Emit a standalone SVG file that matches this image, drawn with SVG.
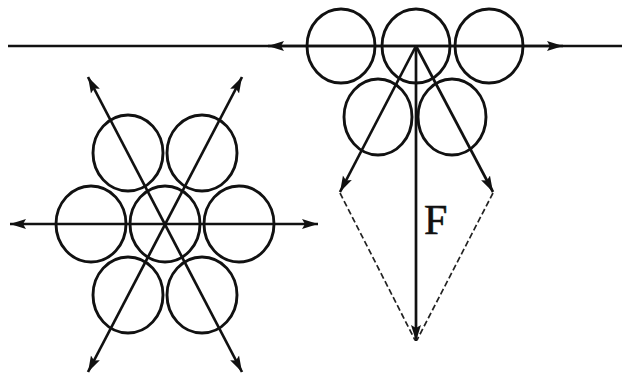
<svg xmlns="http://www.w3.org/2000/svg" width="622" height="385" viewBox="0 0 622 385">
<defs>
<marker id="ah" viewBox="0 -6 17 12" refX="16" refY="0" markerWidth="17" markerHeight="12" markerUnits="userSpaceOnUse" orient="auto-start-reverse">
<path d="M0,-5 L16,0 L0,5 L3,0 z" fill="#111"/>
</marker>
<style>
.c{fill:none;stroke:#111;stroke-width:2.9}
.l{fill:none;stroke:#111;stroke-width:2.7}
.d{fill:none;stroke:#222;stroke-width:1.7;stroke-dasharray:6 3}
.t{font-family:"Liberation Serif","Times New Roman",serif;font-size:42px;fill:#111;stroke:#111;stroke-width:0.6}
</style>
</defs>
<rect width="622" height="385" fill="#fff"/>
<g id="left-group">
<ellipse class="c" cx="128" cy="153" rx="35" ry="38"/>
<ellipse class="c" cx="202" cy="153" rx="35" ry="38"/>
<ellipse class="c" cx="91" cy="224" rx="35" ry="38"/>
<ellipse class="c" cx="165" cy="224" rx="35" ry="38"/>
<ellipse class="c" cx="239" cy="224" rx="35" ry="38"/>
<ellipse class="c" cx="128" cy="295" rx="35" ry="38"/>
<ellipse class="c" cx="202" cy="295" rx="35" ry="38"/>
</g>
<g id="right-group">
<ellipse class="c" cx="341" cy="46" rx="34" ry="37"/>
<ellipse class="c" cx="416" cy="46" rx="34" ry="37"/>
<ellipse class="c" cx="489" cy="46" rx="34" ry="37"/>
<ellipse class="c" cx="378" cy="117" rx="34" ry="38"/>
<ellipse class="c" cx="452" cy="117" rx="34" ry="38"/>
</g>
<g id="connectors">
<line class="l" x1="10" y1="224" x2="318" y2="224" marker-start="url(#ah)" marker-end="url(#ah)"/>
<line class="l" x1="88" y1="77" x2="242" y2="372" marker-start="url(#ah)" marker-end="url(#ah)"/>
<line class="l" x1="242" y1="77" x2="88" y2="372" marker-start="url(#ah)" marker-end="url(#ah)"/>
<line class="l" x1="8" y1="46" x2="622" y2="46"/>
<line class="l" x1="416" y1="46" x2="268" y2="46" marker-end="url(#ah)"/>
<line class="l" x1="416" y1="46" x2="563" y2="46" marker-end="url(#ah)"/>
<line class="l" x1="416" y1="46" x2="340" y2="192" marker-end="url(#ah)"/>
<line class="l" x1="416" y1="46" x2="493" y2="192" marker-end="url(#ah)"/>
<line class="l" x1="416" y1="46" x2="416" y2="341" marker-end="url(#ah)"/>
<line class="d" x1="340" y1="193" x2="415" y2="340"/>
<line class="d" x1="493" y1="193" x2="417" y2="340"/>
</g>
<text class="t" x="424" y="234">F</text>
</svg>
